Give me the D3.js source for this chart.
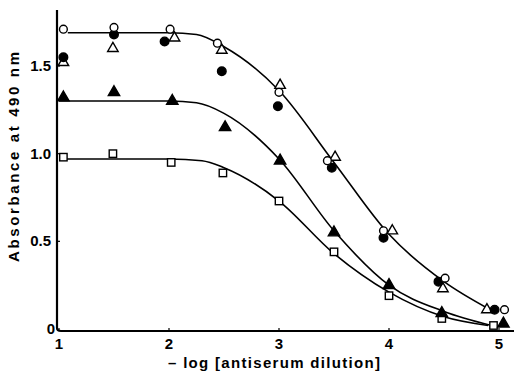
<!DOCTYPE html>
<html><head><meta charset="utf-8">
<script src="https://cdn.jsdelivr.net/npm/d3@7"></script>
<style>body{margin:0;background:#fff}svg{display:block}text{font-family:"Liberation Sans",Arial,sans-serif;font-weight:bold;fill:#000}</style>
</head><body><svg id="c" width="518" height="371"></svg>
<script>
// Data: [x, absorbance]
const xTicks = [1, 2, 3, 4, 5];
const yTicks = [0, 0.5, 1.0, 1.5];
const yTickLabels = ["0", "0.5", "1.0", "1.5"];
const openCircles   = [[1.04,1.71],[1.5,1.72],[2.01,1.71],[2.44,1.63],[3.0,1.35],[3.44,0.96],[3.95,0.56],[4.51,0.29],[5.05,0.11]];
const filledCircles = [[1.04,1.55],[1.5,1.68],[1.96,1.64],[2.48,1.47],[2.99,1.27],[3.48,0.92],[3.95,0.52],[4.45,0.27],[4.96,0.11]];
const openTriangles = [[1.04,1.52],[1.49,1.60],[2.05,1.66],[2.48,1.59],[3.01,1.39],[3.51,0.98],[4.03,0.56],[4.49,0.23],[4.89,0.11]];
const filledTriangles = [[1.04,1.32],[1.5,1.35],[2.03,1.30],[2.51,1.15],[3.01,0.96],[3.5,0.55],[4.0,0.25],[4.48,0.09],[5.04,0.03]];
const openSquares   = [[1.04,0.98],[1.49,1.00],[2.02,0.95],[2.49,0.89],[3.0,0.73],[3.5,0.44],[4.0,0.19],[4.48,0.06],[4.95,0.02]];
const curveUpper  = [[1.08,1.69],[2.0,1.69],[2.25,1.68],[2.5,1.61],[3.0,1.36],[3.5,0.95],[4.0,0.54],[4.5,0.27],[4.92,0.11]];
const curveMiddle = [[1.0,1.30],[2.0,1.30],[2.25,1.29],[2.5,1.23],[3.0,0.97],[3.5,0.56],[4.0,0.25],[4.5,0.10],[4.93,0.02]];
const curveLower  = [[1.0,0.97],[2.0,0.97],[2.3,0.96],[2.5,0.92],[3.0,0.73],[3.5,0.43],[4.0,0.21],[4.5,0.07],[4.9,0.02]];

const svg = d3.select("#c");
const x = d3.scaleLinear().domain([1, 5]).range([59, 499]);
const y = d3.scaleLinear().domain([0, 1.5]).range([329, 66]);
const axisX0 = 57, axisY0 = 331;

// axes lines
svg.append("path").attr("d", `M${axisX0},10 L${axisX0},${axisY0-3} Q${axisX0},${axisY0} ${axisX0+4},${axisY0} L514,${axisY0}`)
  .attr("fill","none").attr("stroke","#000").attr("stroke-width",2.2);

// ticks
svg.selectAll(".xt").data(xTicks).join("line").attr("x1",d=>x(d)).attr("x2",d=>x(d))
  .attr("y1",axisY0).attr("y2",axisY0-3).attr("stroke","#000").attr("stroke-width",1.2);
svg.selectAll(".yt").data(yTicks.slice(1)).join("line").attr("x1",axisX0).attr("x2",axisX0+3)
  .attr("y1",d=>y(d)).attr("y2",d=>y(d)).attr("stroke","#000").attr("stroke-width",1.2);

svg.selectAll(".xl").data(xTicks).join("text").attr("x",d=>x(d)).attr("y",349)
  .attr("text-anchor","middle").attr("font-size",15).text(d=>d);
svg.selectAll(".yl").data(yTicks).join("text").attr("x",(d,i)=>i===0?55:51).attr("y",d=>y(d)+5)
  .attr("text-anchor","end").attr("font-size",15).text((d,i)=>yTickLabels[i]);

svg.append("text").attr("x",168).attr("y",368).attr("font-size",15)
  .attr("textLength",212).attr("lengthAdjust","spacing").text("– log [antiserum dilution]");
svg.append("text").attr("transform","translate(19,262) rotate(-90)").attr("font-size",15)
  .attr("textLength",210).attr("lengthAdjust","spacing").text("Absorbance at 490 nm");

// curves
const line = d3.line().x(d=>x(d[0])).y(d=>y(d[1])).curve(d3.curveMonotoneX);
[curveUpper, curveMiddle, curveLower].forEach(c=>{
  svg.append("path").attr("d", line(c)).attr("fill","none").attr("stroke","#000").attr("stroke-width",1.6);
});

// markers
const sw = 1.4;
function circles(data, filled){
  svg.append("g").selectAll("circle").data(data).join("circle")
    .attr("cx",d=>x(d[0])).attr("cy",d=>y(d[1])).attr("r",filled?4.3:3.9)
    .attr("fill",filled?"#000":"#fff").attr("stroke","#000").attr("stroke-width",sw);
}
function triangles(data, filled){
  const sym = d3.symbol().type(d3.symbolTriangle).size(filled?56:48);
  svg.append("g").selectAll("path").data(data).join("path")
    .attr("transform",d=>`translate(${x(d[0])},${y(d[1])})`).attr("d",sym())
    .attr("fill",filled?"#000":"#fff").attr("stroke","#000").attr("stroke-width",sw);
}
function squares(data){
  svg.append("g").selectAll("rect").data(data).join("rect")
    .attr("x",d=>x(d[0])-3.7).attr("y",d=>y(d[1])-3.7).attr("width",7.4).attr("height",7.4)
    .attr("fill","#fff").attr("stroke","#000").attr("stroke-width",sw);
}
squares(openSquares);
triangles(filledTriangles, true);
triangles(openTriangles, false);
circles(filledCircles, true);
circles(openCircles, false);
</script></body></html>
